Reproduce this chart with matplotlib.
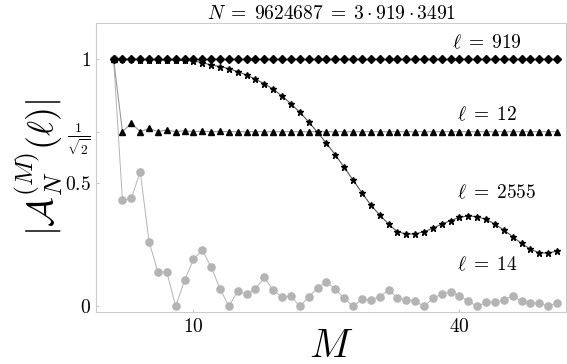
import numpy as np
import matplotlib
matplotlib.use('Agg')
import matplotlib.pyplot as plt
matplotlib.rcParams['mathtext.fontset'] = 'cm'
matplotlib.rcParams['font.family'] = 'serif'
matplotlib.rcParams['font.serif'] = ['DejaVu Serif']

M = np.arange(1, 52)

# l = 919 : flat at one
A_919 = [1.0] * 51
# l = 12
A_12 = [1.0, 0.707, 0.741, 0.707, 0.72, 0.707, 0.714, 0.707, 0.711, 0.707,
        0.709, 0.707, 0.708] + [0.707] * 38
# l = 2555
A_2555 = [1.0, 1.0, 1.0, 0.999, 0.999, 0.998, 0.997, 0.996, 0.995, 0.993,
          0.986, 0.977, 0.970, 0.962, 0.950, 0.936, 0.919, 0.901, 0.879, 0.851,
          0.820, 0.785, 0.747, 0.704, 0.660, 0.613, 0.563, 0.511, 0.460, 0.410,
          0.370, 0.333, 0.302, 0.293, 0.293, 0.302, 0.316, 0.333, 0.347, 0.360,
          0.366, 0.363, 0.352, 0.333, 0.309, 0.282, 0.255, 0.231, 0.217, 0.215,
          0.224]
# l = 14
A_14 = [1.0, 0.429, 0.437, 0.545, 0.262, 0.139, 0.139, 0.0, 0.105, 0.190,
        0.228, 0.159, 0.071, 0.0, 0.062, 0.049, 0.071, 0.117, 0.065, 0.038,
        0.042, 0.0, 0.038, 0.075, 0.099, 0.070, 0.032, 0.0, 0.028, 0.026,
        0.039, 0.066, 0.035, 0.026, 0.021, 0.0, 0.032, 0.050, 0.059, 0.043,
        0.021, 0.0, 0.016, 0.016, 0.026, 0.043, 0.021, 0.012, 0.015, 0.0,
        0.012]

labels = [r'$\ell\;=\;919$', r'$\ell\;=\;12$', r'$\ell\;=\;2555$', r'$\ell\;=\;14$']
label_pos = [(43.1, 1.065), (43.1, 0.774), (44.2, 0.458), (43.1, 0.167)]

fig = plt.figure(figsize=(5.67, 3.64), dpi=100)
ax = fig.add_axes([0.170, 0.142, 0.828, 0.795])

ax.plot(M, A_14, color='#b4b4b4', lw=0.7, marker='o', ms=6.2, mec='none', zorder=2)
ax.plot(M, A_12, color='#999999', lw=0.8, marker='^', ms=4.8, mfc='black', mec='black', zorder=3)
ax.plot(M, A_2555, color='#555555', lw=0.8, marker='*', ms=4.8, mfc='black', mec='black', zorder=3)
ax.plot(M, A_919, color='#999999', lw=0.8, marker='D', ms=4.0, mfc='black', mec='black', zorder=4)

for lab, (x, y) in zip(labels, label_pos):
    ax.text(x, y, lab, fontsize=14, ha='center', va='center')

ax.set_xlim(-0.94, 52.0)
ax.set_ylim(-0.024, 1.147)
ax.set_xticks([10, 40])
ax.set_xticklabels(['$10$', '$40$'], fontsize=14)
ax.set_yticks([0, 0.5, 1/np.sqrt(2), 1])
ax.set_yticklabels(['$0$', '$0.5$', r'$\frac{1}{\sqrt{2}}$', '$1$'], fontsize=14)
ax.tick_params(direction='in', length=2.5, width=0.6, color='#bbbbbb', pad=4)
for s in ax.spines.values():
    s.set_color('#cccccc')
    s.set_linewidth(0.8)

ax.set_xlabel('$M$', fontsize=29, labelpad=-6)
ax.set_ylabel(r'$|\mathcal{A}_N^{(M)}(\ell)|$', fontsize=26, labelpad=0)
ax.set_title(r'$N\;=\;9624687\;=\;3\cdot 919\cdot 3491$', fontsize=14, pad=3)

plt.savefig('out.png', dpi=100)
